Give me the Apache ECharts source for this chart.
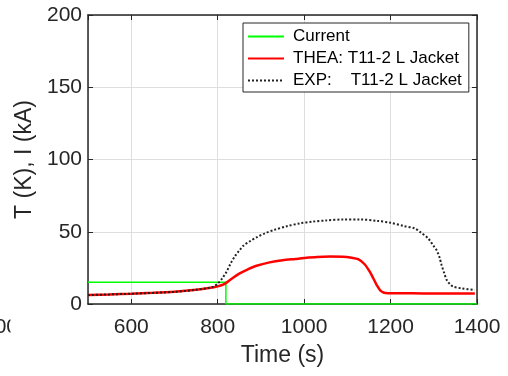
<!DOCTYPE html>
<html>
<head>
<meta charset="utf-8">
<script src="https://cdn.jsdelivr.net/npm/echarts@6/dist/echarts.min.js"></script>
<style>
html,body{margin:0;padding:0;background:#fff;}
#chart{width:508px;height:376px;}
</style>
</head>
<body>
<div id="chart"></div>
<script>
var seriesNames = ['Current', 'THEA: T11-2 L Jacket', 'EXP:    T11-2 L Jacket'];

var currentTime  = [500, 819, 819, 1400];
var currentValue = [15, 15, 0, 0];

var theaTime  = [500, 550, 600, 650, 700, 750, 780, 800, 815, 830, 850, 870, 890, 920, 950, 980, 1000, 1030, 1060, 1090, 1110, 1125, 1140, 1152, 1160, 1168, 1176, 1185, 1195, 1250, 1300, 1350, 1395];
var theaValue = [6.2, 6.6, 7.1, 7.7, 8.5, 9.8, 11, 12.2, 13.8, 17, 21, 24, 26.5, 28.8, 30.3, 31.2, 31.8, 32.5, 32.8, 32.7, 32, 31, 27.5, 22.3, 17.8, 13.1, 9.5, 7.8, 7.5, 7.4, 7.3, 7.2, 7.2];

var expTime  = [500, 600, 700, 750, 780, 790, 800, 810, 820, 830, 840, 850, 860, 875, 890, 910, 930, 960, 990, 1020, 1050, 1090, 1130, 1170, 1200, 1230, 1256, 1270, 1287, 1300, 1307, 1313, 1318, 1324, 1330, 1338, 1345, 1365, 1395];
var expValue = [6.2, 7.1, 8.4, 9.8, 11.2, 12, 14, 17.5, 22, 28, 33, 37, 40.5, 43.5, 46.1, 49, 51.2, 53.8, 55.8, 57, 57.8, 58.5, 58.5, 57.5, 56.2, 54, 52.3, 49.5, 45.4, 40, 37, 32.5, 27, 21.5, 16.6, 13.5, 12, 10.8, 9.7];

var yTicks = [0, 50, 100, 150, 200];

function pairs(t, v) { return t.map(function (x, i) { return [x, v[i]]; }); }

var FONT = '"Liberation Sans", Arial, sans-serif';
var AX = '#262626';

var chart = echarts.init(document.getElementById('chart'), null, {renderer: 'canvas'});
chart.setOption({
  animation: false,
  backgroundColor: '#fff',
  grid: {left: 88, right: 31, top: 15, bottom: 72, containLabel: false},
  legend: {
    left: 243, top: 23,
    orient: 'vertical',
    data: seriesNames,
    itemWidth: 36, itemHeight: 14, itemGap: 5,
    padding: [5, 7, 3, 4],
    borderColor: AX, borderWidth: 1, backgroundColor: '#fff',
    itemStyle: {color: 'rgba(0,0,0,0)', borderWidth: 0, opacity: 0},
    textStyle: {fontSize: 17, fontFamily: FONT, color: '#000', lineHeight: 17, padding: [0, 0, 0, 4]}
  },
  xAxis: [{
    type: 'value', min: 500, max: 1400, splitNumber: 5,
    name: 'Time (s)', nameLocation: 'middle', nameGap: 40,
    nameTextStyle: {fontSize: 23, fontFamily: FONT, color: AX},
    axisLine: {show: true, onZero: false, lineStyle: {color: AX, width: 1.5}},
    axisTick: {show: true, inside: true, length: 5, lineStyle: {color: AX}},
    axisLabel: {fontSize: 21, fontFamily: FONT, color: AX, margin: 13, showMinLabel: false,
                formatter: function (v) { return String(v); }},
    splitLine: {show: true, lineStyle: {color: '#dedede', width: 1}}
  }, {
    type: 'value', min: 500, max: 1400, splitNumber: 5, position: 'top',
    axisLine: {show: true, onZero: false, lineStyle: {color: AX, width: 1.5}},
    axisTick: {show: true, inside: true, length: 5, lineStyle: {color: AX}},
    axisLabel: {show: false}, splitLine: {show: false}
  }],
  yAxis: [{
    type: 'value', min: yTicks[0], max: yTicks[yTicks.length - 1], interval: 50,
    name: 'T (K), I (kA)', nameLocation: 'middle', nameGap: 47,
    nameTextStyle: {fontSize: 23, fontFamily: FONT, color: AX},
    axisLine: {show: true, onZero: false, lineStyle: {color: AX, width: 1.5}},
    axisTick: {show: true, inside: true, length: 5, lineStyle: {color: AX}},
    axisLabel: {fontSize: 21, fontFamily: FONT, color: AX, margin: 6},
    splitLine: {show: true, lineStyle: {color: '#dedede', width: 1}}
  }, {
    type: 'value', min: yTicks[0], max: yTicks[yTicks.length - 1], interval: 50, position: 'right',
    axisLine: {show: true, onZero: false, lineStyle: {color: AX, width: 1.5}},
    axisTick: {show: true, inside: true, length: 5, lineStyle: {color: AX}},
    axisLabel: {show: false}, splitLine: {show: false}
  }],
  graphic: [
    {type: 'text', left: -17, top: 317, z: 1, style: {text: '400', font: '21px ' + FONT, fill: AX}},
    {type: 'rect', shape: {x: 10.5, y: 310, width: 30, height: 35}, z: 2, style: {fill: '#fff'}}
  ],
  series: [{
    name: seriesNames[0], type: 'line', xAxisIndex: 0, yAxisIndex: 0,
    data: pairs(currentTime, currentValue), symbol: 'none', smooth: false,
    lineStyle: {color: '#00ff00', width: 1.5}, itemStyle: {color: '#00ff00'}, z: 3
  }, {
    name: seriesNames[1], type: 'line', xAxisIndex: 0, yAxisIndex: 0,
    data: pairs(theaTime, theaValue), symbol: 'none', smooth: 0.3,
    lineStyle: {color: '#ff0000', width: 2.5}, itemStyle: {color: '#ff0000'}, z: 4
  }, {
    name: seriesNames[2], type: 'line', xAxisIndex: 0, yAxisIndex: 0,
    data: pairs(expTime, expValue), symbol: 'none', smooth: 0.3,
    lineStyle: {color: '#222', width: 2, type: [2, 2]}, itemStyle: {color: '#222'}, z: 5
  }]
});
</script>
</body>
</html>
